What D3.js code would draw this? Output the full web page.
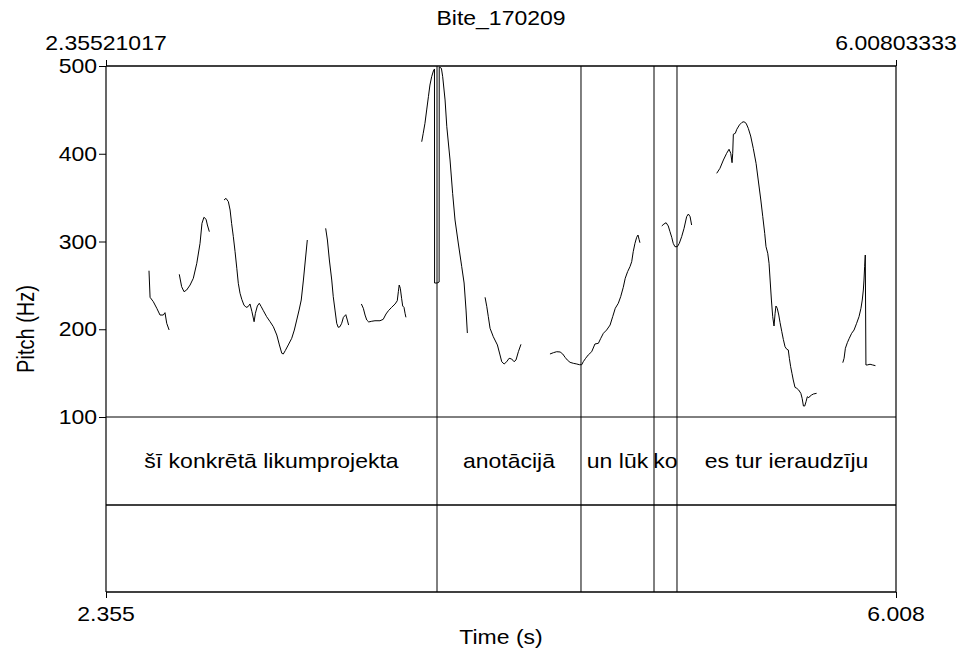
<!DOCTYPE html>
<html><head><meta charset="utf-8">
<script src="https://cdn.jsdelivr.net/npm/d3@7"></script>
<style>body{margin:0;background:#fff}svg{display:block}</style>
</head><body>
<svg id="c" width="966" height="653"></svg>
<script>
// ---------- data ----------
const chartTitle = "Bite_170209";
const timeStart = 2.35521017, timeEnd = 6.00803333;
const topTimeLabels = ["2.35521017", "6.00803333"];
const bottomTimeLabels = ["2.355", "6.008"];
const pitchTicks = [100, 200, 300, 400, 500];
const pitchRange = [100, 500];
const xTitle = "Time (s)";
const yTitle = "Pitch (Hz)";
const boundaries = [3.8857, 4.5515, 4.8891, 4.9954];
const intervalLabels = ["šī konkrētā likumprojekta", "anotācijā", "un lūk", "ko", "es tur ieraudzīju"];

// pitch contour pieces: [time (s), pitch (Hz)]
const contour1 = [[2.554,266.7],[2.559,236.4],[2.574,231.4],[2.590,223.9],[2.605,216.2],[2.620,216.2],[2.628,218.9],[2.636,206.8],[2.647,199.2]];
const contour2 = [[2.694,262.6],[2.705,248.5],[2.716,242.8],[2.728,244.7],[2.744,250.4],[2.759,258.1],[2.775,275.2],[2.790,297.9],[2.799,320.7],[2.808,327.6],[2.818,325.3],[2.824,318.8],[2.833,311.2]];
const contour3 = [[2.901,347.3],[2.910,349.2],[2.921,345.4],[2.929,335.9],[2.936,320.7],[2.944,305.5],[2.952,288.4],[2.960,269.5],[2.967,252.4],[2.975,241.0],[2.983,234.1],[2.993,227.6],[3.003,225.0],[3.012,225.7],[3.021,228.8],[3.030,220.0],[3.040,208.6],[3.046,218.2],[3.055,226.5],[3.064,229.6],[3.073,225.7],[3.083,221.1],[3.098,214.3],[3.114,208.6],[3.129,202.9],[3.145,193.4],[3.157,182.1],[3.168,172.6],[3.175,171.8],[3.184,175.6],[3.198,182.1],[3.214,189.7],[3.226,199.1],[3.237,210.5],[3.248,221.9],[3.258,233.3],[3.268,256.1],[3.277,278.9],[3.286,301.7]];
const contour4 = [[3.371,315.0],[3.379,301.7],[3.388,278.9],[3.399,256.1],[3.406,237.1],[3.414,221.9],[3.422,206.8],[3.429,202.2],[3.437,202.9],[3.445,206.8],[3.453,213.6],[3.464,216.6],[3.471,210.5],[3.477,204.8]];
const contour5 = [[3.536,228.8],[3.545,223.9],[3.553,216.2],[3.561,210.5],[3.570,208.3],[3.584,209.1],[3.599,209.7],[3.622,209.7],[3.637,211.3],[3.650,217.4],[3.661,221.1],[3.676,225.0],[3.692,228.8],[3.702,232.5],[3.707,242.8],[3.711,250.4],[3.716,246.7],[3.722,235.3],[3.727,226.5],[3.733,225.0],[3.738,218.2],[3.742,213.6]];
const contour6 = [[3.815,413.7],[3.822,423.3],[3.830,434.7],[3.838,449.9],[3.846,465.0],[3.853,478.3],[3.861,487.8],[3.869,494.3],[3.874,496.6],[3.8745,252.7],[3.886,252.7],[3.8955,253.8],[3.896,498.9],[3.906,497.4],[3.912,487.8],[3.923,461.3],[3.931,430.8],[3.946,392.9],[3.958,354.9],[3.969,324.5],[3.984,298.3],[4.000,271.3],[4.011,252.7],[4.020,221.9],[4.026,195.7]];
const contour7 = [[4.108,236.4],[4.116,225.7],[4.123,214.3],[4.131,201.1],[4.146,191.5],[4.165,182.1],[4.177,170.7],[4.185,163.0],[4.196,160.4],[4.208,163.0],[4.219,166.9],[4.231,166.1],[4.242,163.0],[4.251,165.0],[4.262,174.4],[4.274,182.8]];
const contour8 = [[4.408,171.8],[4.424,173.3],[4.439,174.4],[4.455,174.1],[4.467,171.8],[4.478,168.0],[4.488,165.0],[4.501,162.3],[4.516,161.2],[4.532,160.4],[4.544,159.6],[4.555,159.6],[4.562,163.0],[4.573,166.9],[4.585,170.7],[4.601,174.4],[4.616,183.2],[4.632,184.0],[4.643,189.7],[4.655,195.4],[4.670,199.1],[4.686,204.8],[4.698,214.3],[4.710,223.9],[4.724,229.6],[4.735,237.1],[4.747,247.8],[4.756,258.1],[4.767,265.6],[4.778,271.3],[4.786,277.0],[4.793,288.4],[4.801,297.9],[4.809,304.8],[4.815,307.4],[4.820,302.5],[4.824,298.6]];
const contour9 = [[4.925,317.7],[4.935,319.9],[4.945,321.4],[4.955,317.7],[4.963,311.2],[4.971,304.8],[4.978,297.9],[4.986,294.1],[4.997,294.1],[5.006,297.9],[5.017,305.5],[5.028,315.0],[5.040,328.3],[5.048,331.3],[5.056,328.3],[5.063,318.8]];
const contour10 = [[5.179,377.7],[5.194,383.4],[5.210,392.9],[5.225,400.5],[5.236,405.1],[5.244,400.5],[5.250,389.8],[5.253,400.5],[5.256,422.2],[5.265,423.3],[5.272,427.9],[5.284,432.8],[5.296,435.8],[5.305,436.5],[5.315,434.7],[5.325,429.0],[5.336,420.2],[5.348,406.2],[5.361,389.1],[5.371,370.1],[5.383,347.3],[5.392,328.3],[5.401,309.3],[5.407,294.1],[5.415,286.6],[5.421,275.2],[5.426,256.1],[5.432,233.3],[5.438,214.3],[5.444,203.7],[5.449,218.2],[5.453,226.5],[5.459,223.9],[5.466,216.2],[5.472,207.5],[5.480,197.2],[5.487,188.5],[5.495,180.1],[5.503,177.2],[5.510,176.4],[5.515,166.9],[5.521,157.3],[5.527,149.8],[5.533,142.2],[5.541,133.8],[5.549,132.7],[5.558,130.8],[5.568,127.0],[5.574,121.3],[5.580,112.5],[5.586,112.5],[5.592,117.4],[5.598,123.1],[5.605,122.0],[5.611,123.9],[5.618,125.1],[5.626,126.2],[5.641,127.0]];
const contour11 = [[5.762,161.9],[5.768,166.9],[5.774,178.3],[5.783,184.7],[5.792,189.7],[5.803,195.4],[5.814,199.1],[5.826,206.8],[5.837,214.3],[5.846,223.9],[5.852,233.3],[5.857,244.7],[5.860,256.1],[5.863,271.3],[5.866,284.6],[5.869,159.3],[5.875,159.3],[5.888,160.1],[5.900,159.3],[5.913,158.5]];
const contours = [contour1, contour2, contour3, contour4, contour5, contour6, contour7, contour8, contour9, contour10, contour11];

// ---------- layout ----------
const L = 106, R = 896, T = 66, PB = 417, TB = 505, B = 592;
const FONT = "'Liberation Sans', Arial, Helvetica, sans-serif";
const FS = 20, SX = 1.15;

const svg = d3.select("#c").style("font-family", FONT);
const x = d3.scaleLinear().domain([timeStart, timeEnd]).range([L, R]);
const y = d3.scaleLinear().domain(pitchRange).range([PB, T]);

function txt(px, py, s, anchor, rot) {
  svg.append("text")
    .attr("transform", `translate(${px},${py}) scale(${SX},1)` + (rot ? ` rotate(${rot})` : ""))
    .attr("text-anchor", anchor)
    .attr("font-size", FS)
    .attr("fill", "#000")
    .text(s);
}

// pitch contours
const line = d3.line().x(d => x(d[0])).y(d => y(d[1]));
svg.append("g").selectAll("path").data(contours).join("path")
  .attr("d", line).attr("fill", "none").attr("stroke", "#000").attr("stroke-width", 1);

// interval boundaries
svg.append("g").selectAll("line").data(boundaries).join("line")
  .attr("x1", d => x(d)).attr("x2", d => x(d)).attr("y1", T).attr("y2", B)
  .attr("stroke", "#000").attr("stroke-width", 1);

// frame + tier lines
const frame = svg.append("g").attr("stroke", "#000").attr("fill", "none");
frame.append("line").attr("x1", L).attr("x2", L).attr("y1", T).attr("y2", B).attr("stroke-width", 1.2);
frame.append("line").attr("x1", R).attr("x2", R).attr("y1", T).attr("y2", B).attr("stroke-width", 1.2);
frame.append("line").attr("x1", L).attr("x2", R).attr("y1", T).attr("y2", T).attr("stroke-width", 1.5);
frame.append("line").attr("x1", L).attr("x2", R).attr("y1", y(pitchRange[0])).attr("y2", y(pitchRange[0])).attr("stroke-width", 1);
frame.append("line").attr("x1", L).attr("x2", R).attr("y1", TB).attr("y2", TB).attr("stroke-width", 1.5);
frame.append("line").attr("x1", L).attr("x2", R).attr("y1", B).attr("y2", B).attr("stroke-width", 1.5);

// left axis
const yAxis = d3.axisLeft(y).tickValues(pitchTicks).tickSize(7).tickPadding(2).tickFormat(d3.format("d"));
const gy = svg.append("g").attr("transform", `translate(${L},0)`).call(yAxis);
gy.select(".domain").remove();
gy.selectAll(".tick line").attr("stroke", "#000");
gy.selectAll(".tick text").remove();
pitchTicks.forEach(v => txt(L - 9, y(v) + 7, String(v), "end"));

// top / bottom time ticks
const edgeTimes = [timeStart, timeEnd];
const xTop = d3.axisTop(x).tickValues(edgeTimes).tickSize(6).tickFormat("");
const gt = svg.append("g").attr("transform", `translate(0,${T})`).call(xTop);
gt.select(".domain").remove();
gt.selectAll(".tick line").attr("stroke", "#000");
const xBot = d3.axisBottom(x).tickValues(edgeTimes).tickSize(6).tickFormat("");
const gb = svg.append("g").attr("transform", `translate(0,${B})`).call(xBot);
gb.select(".domain").remove();
gb.selectAll(".tick line").attr("stroke", "#000");

edgeTimes.forEach((t, i) => {
  txt(x(t), 50, topTimeLabels[i], "middle");
  txt(x(t), 621, bottomTimeLabels[i], "middle");
});

// titles
txt((L + R) / 2, 25, chartTitle, "middle");
txt((L + R) / 2, 644, xTitle, "middle");
txt(34, (T + B) / 2, yTitle, "middle", -90);

// interval labels
const edges = [timeStart, ...boundaries, timeEnd];
intervalLabels.forEach((s, i) => {
  txt(x((edges[i] + edges[i + 1]) / 2), 468, s, "middle");
});
</script>
</body></html>
